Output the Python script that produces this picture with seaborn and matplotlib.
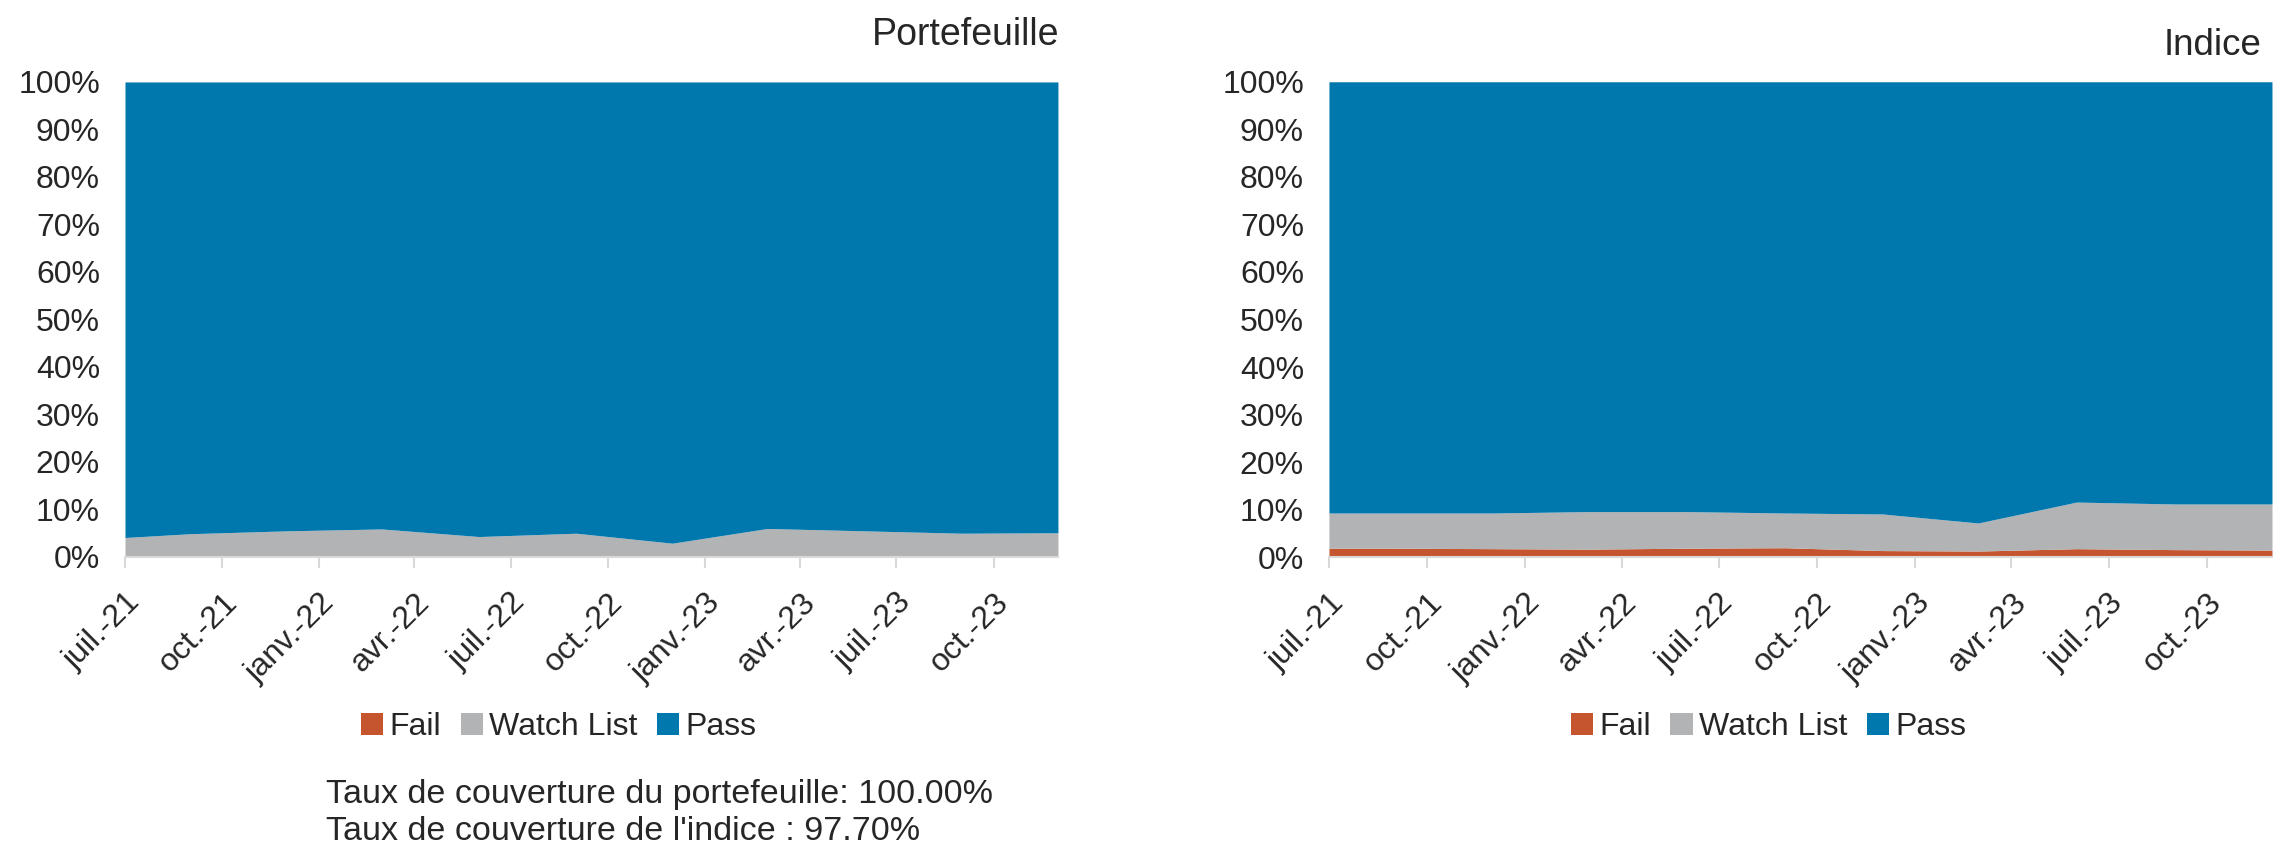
import pandas as pd
import seaborn as sns
import matplotlib.pyplot as plt

# Données (en %)
dates = ["2021-07-01", "2021-09-01", "2021-12-01", "2022-03-01", "2022-06-01", "2022-09-01",
         "2022-12-01", "2023-03-01", "2023-06-01", "2023-09-01", "2023-12-01"]

ptf_fail = [0.0, 0.0, 0.0, 0.0, 0.0, 0.0, 0.0, 0.0, 0.0, 0.0, 0.0]
ptf_watch = [4.1, 4.9, 5.5, 5.9, 4.3, 5.0, 2.9, 6.0, 5.5, 5.0, 5.1]
ptf_pass = [95.9, 95.1, 94.5, 94.1, 95.7, 95.0, 97.1, 94.0, 94.5, 95.0, 94.9]

idx_fail = [1.9, 1.9, 1.8, 1.7, 1.9, 2.0, 1.4, 1.3, 1.8, 1.6, 1.5]
idx_watch = [7.4, 7.4, 7.5, 7.9, 7.7, 7.3, 7.7, 5.9, 9.8, 9.6, 9.7]
idx_pass = [90.7, 90.7, 90.7, 90.4, 90.4, 90.7, 90.9, 92.8, 88.4, 88.8, 88.8]

tick_dates = ["2021-07-01", "2021-10-01", "2022-01-01", "2022-04-01", "2022-07-01",
              "2022-10-01", "2023-01-01", "2023-04-01", "2023-07-01", "2023-10-01"]
tick_labels = ["juil.-21", "oct.-21", "janv.-22", "avr.-22", "juil.-22",
               "oct.-22", "janv.-23", "avr.-23", "juil.-23", "oct.-23"]

series = ["Fail", "Watch List", "Pass"]
colors = ["#C5552F", "#B2B3B5", "#0078AE"]

sns.set_theme(style="white")
plt.rcParams["font.family"] = ["Liberation Sans", "DejaVu Sans"]


def draw_panel(ax, fail, watch, pss):
    df = pd.DataFrame({"date": pd.to_datetime(dates), "Fail": fail,
                       "Watch List": watch, "Pass": pss})
    ax.stackplot(df["date"], df["Fail"], df["Watch List"], df["Pass"],
                 colors=colors, labels=series, linewidth=0)
    ax.set_xlim(pd.Timestamp("2021-07-01"), pd.Timestamp("2023-12-01"))
    ax.set_ylim(0, 100)
    ax.set_yticks(range(0, 101, 10))
    ax.set_yticklabels([f"{v}%" for v in range(0, 101, 10)], fontsize=23)
    ax.set_xticks(pd.to_datetime(tick_dates))
    ax.set_xticklabels(tick_labels, rotation=45, ha="right",
                       rotation_mode="anchor", fontsize=23)
    for s in ["top", "right", "left"]:
        ax.spines[s].set_visible(False)
    ax.spines["bottom"].set_color("#D9D9D9")
    ax.spines["bottom"].set_linewidth(1.5)
    ax.tick_params(axis="x", length=8, width=1.5, color="#D9D9D9",
                   direction="out", bottom=True, pad=14)
    ax.tick_params(axis="y", length=0, pad=18)
    ax.set_xlabel("")
    ax.set_ylabel("")
    ax.grid(False)


fig = plt.figure(figsize=(22.85, 8.43), dpi=100)
ax1 = fig.add_axes([0.0547, 0.3393, 0.4083, 0.5635])
ax2 = fig.add_axes([0.5816, 0.3390, 0.4127, 0.5640])

draw_panel(ax1, ptf_fail, ptf_watch, ptf_pass)
draw_panel(ax2, idx_fail, idx_watch, idx_pass)

fig.text(0.4637, 0.9585, "Portefeuille", ha="right", va="center", fontsize=27)
fig.text(0.9898, 0.9466, "Indice", ha="right", va="center", fontsize=26.5)

# Légendes sous chaque graphique
for ax, xc in [(ax1, 0.2446), (ax2, 0.774)]:
    h, l = ax.get_legend_handles_labels()
    fig.legend(h, l, loc="center", bbox_to_anchor=(xc, 0.1376), ncol=3,
               frameon=False, fontsize=23, handlelength=0.7, handleheight=0.7,
               handletextpad=0.2, columnspacing=0.6, borderpad=0)

fig.text(0.1427, 0.0581, "Taux de couverture du portefeuille: 100.00%",
         ha="left", va="center", fontsize=24.5)
fig.text(0.1427, 0.0142, "Taux de couverture de l'indice : 97.70%",
         ha="left", va="center", fontsize=24.5)

fig.savefig("out.png", dpi=100)
plt.close()
